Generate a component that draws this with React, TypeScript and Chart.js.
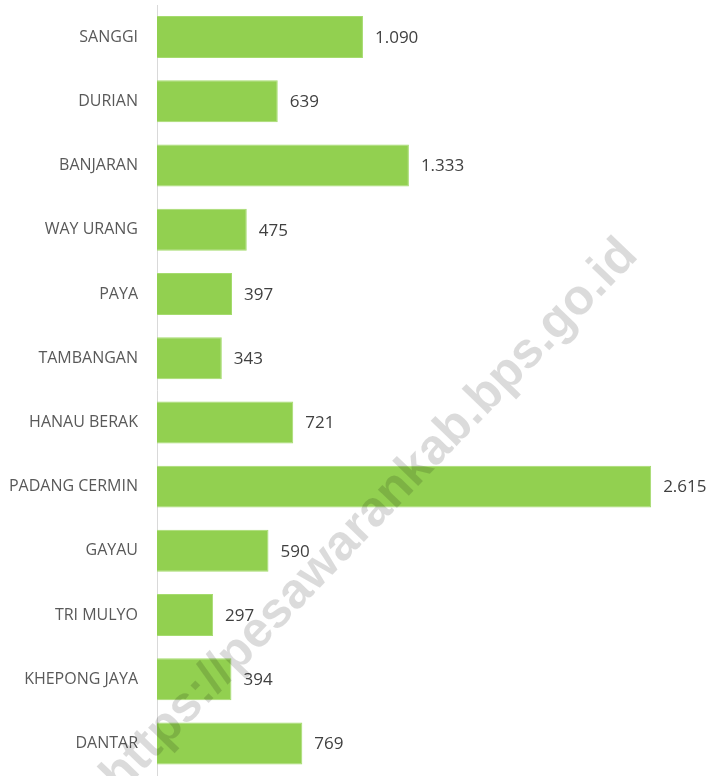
import React, { useEffect, useRef } from "react";
import { Chart, registerables } from "chart.js";

Chart.register(...registerables);

const categories = [
  "SANGGI",
  "DURIAN",
  "BANJARAN",
  "WAY URANG",
  "PAYA",
  "TAMBANGAN",
  "HANAU BERAK",
  "PADANG CERMIN",
  "GAYAU",
  "TRI MULYO",
  "KHEPONG JAYA",
  "DANTAR",
];
const values = [1090, 639, 1333, 475, 397, 343, 721, 2615, 590, 297, 394, 769];
const watermarkText = "https://pesawarankab.bps.go.id";

const FONT = "'Open Sans', 'Noto Sans', sans-serif";

function fmt(v: number): string {
  return v.toString().replace(/\B(?=(\d{3})+(?!\d))/g, ".");
}

const labelPlugin = {
  id: "valueLabels",
  afterDatasetsDraw(chart: any) {
    const ctx = chart.ctx;
    const meta = chart.getDatasetMeta(0);
    ctx.save();
    ctx.font = `17px ${FONT}`;
    ctx.fillStyle = "#404040";
    ctx.textAlign = "left";
    ctx.textBaseline = "middle";
    meta.data.forEach((bar: any, i: number) => {
      ctx.fillText(fmt(values[i]), bar.x + 12, bar.y + 1);
    });
    ctx.restore();
  },
};

const watermarkPlugin = {
  id: "watermark",
  afterDraw(chart: any) {
    const ctx = chart.ctx;
    ctx.save();
    ctx.translate(370, 516);
    ctx.rotate((-46 * Math.PI) / 180);
    ctx.font = `bold 50px 'Liberation Sans', Arial, sans-serif`;
    ctx.fillStyle = "rgba(0,0,0,0.14)";
    ctx.textAlign = "center";
    ctx.textBaseline = "middle";
    ctx.fillText(watermarkText, 0, 0);
    ctx.restore();
  },
};

export default function App() {
  const ref = useRef<HTMLCanvasElement | null>(null);
  useEffect(() => {
    document.body.style.margin = "0";
    if (!ref.current) return;
    const chart = new Chart(ref.current, {
      type: "bar",
      data: {
        labels: categories,
        datasets: [
          {
            data: values,
            backgroundColor: "#92D050",
            borderColor: "#a5db6e",
            borderWidth: 1,
            barPercentage: 0.654,
            categoryPercentage: 1,
          },
        ],
      },
      options: {
        indexAxis: "y",
        animation: false,
        responsive: false,
        maintainAspectRatio: false,
        layout: { padding: { top: 5, bottom: 0, right: 4, left: 0 } },
        plugins: {
          legend: { display: false },
          tooltip: { enabled: false },
        },
        scales: {
          x: {
            display: false,
            min: 0,
            max: 2900,
          },
          y: {
            afterFit(scale: any) {
              scale.width = 157;
            },
            grid: { display: false, drawTicks: true, tickLength: 19 },
            border: { display: true, color: "#d9d9d9", width: 1 },
            ticks: {
              padding: 0,
              color: "#595959",
              font: { family: FONT, size: 16, lineHeight: 0.05 },
            },
          },
        },
      },
      plugins: [labelPlugin, watermarkPlugin],
    });
    return () => chart.destroy();
  }, []);
  return (
    <div style={{ width: 709, height: 776 }}>
      <canvas ref={ref} width={709} height={776} style={{ display: "block" }} />
    </div>
  );
}
